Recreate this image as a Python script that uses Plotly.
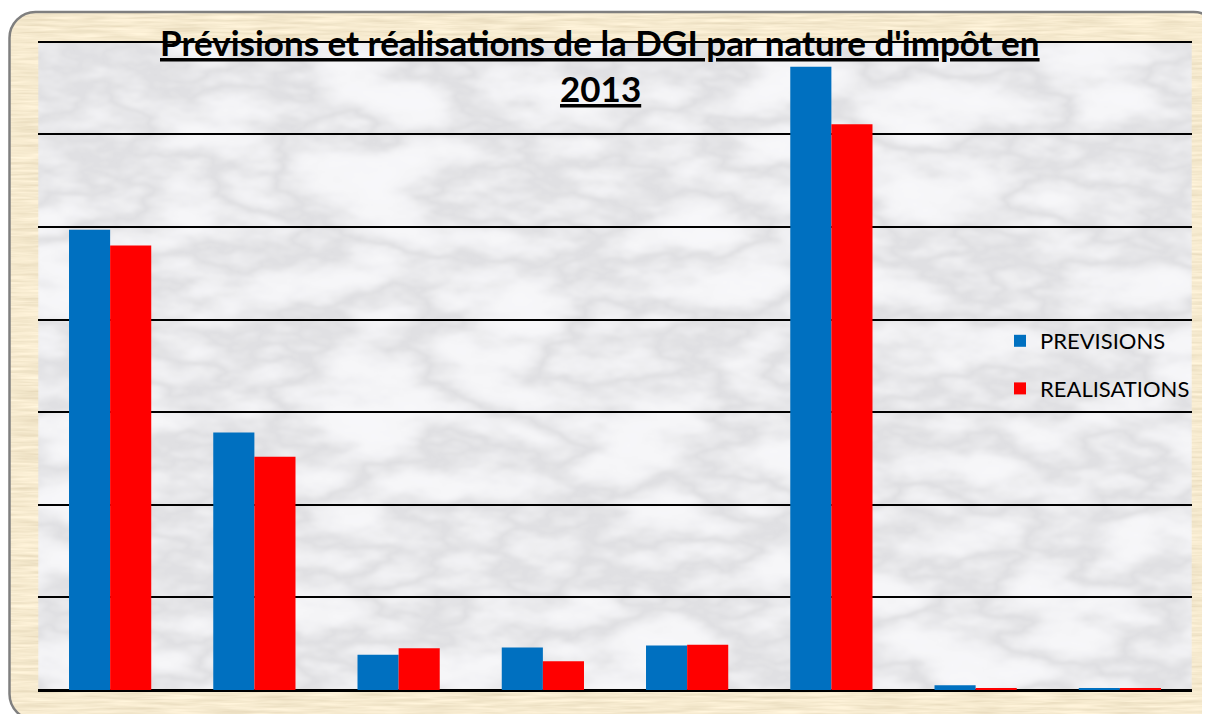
import urllib.parse
import plotly.graph_objects as go

# data (units = one gridline step)
categories = ["1", "2", "3", "4", "5", "6", "7", "8"]
previsions = [4.97, 2.78, 0.38, 0.46, 0.48, 6.73, 0.05, 0.02]
realisations = [4.80, 2.52, 0.45, 0.31, 0.49, 6.11, 0.02, 0.015]
title_line1 = "Prévisions et réalisations de la DGI par nature d'impôt en"
title_line2 = "2013"

# page has an 8px body margin, so the figure is a bit smaller than the window
W, H = 1202, 706
ML, MR, MT, MB = 30, 18, 32, 24
PW, PH = W - ML - MR, H - MT - MB
YTOP = 7.02  # a touch above 7 so the top gridline is still drawn

vein = "0.935 0.935 0.935 0.935 0.93 0.92 0.90 0.86 0.80 0.74 0.80 0.86 0.90 0.92 0.93 0.935 0.935 0.935 0.935"
vein_b = " ".join(str(round(float(v) + 0.02, 3)) for v in vein.split())

# background decoration: parchment frame + marble plot area (svg filters)
bg_svg = f"""<svg xmlns='http://www.w3.org/2000/svg' width='{W}' height='{H}' viewBox='0 0 {W} {H}'>
<defs>
<filter id='p' x='0' y='0' width='100%' height='100%'>
<feTurbulence type='fractalNoise' baseFrequency='0.02 0.35' numOctaves='3' seed='4' result='n'/>
<feColorMatrix in='n' type='matrix' values='0.3 0 0 0 0.77  0.3 0 0 0 0.67  0.3 0 0 0 0.47  0 0 0 0 1' result='c'/>
<feComposite in='c' in2='SourceAlpha' operator='in'/>
</filter>
<filter id='m' x='0' y='0' width='100%' height='100%'>
<feTurbulence type='fractalNoise' baseFrequency='0.007 0.016' numOctaves='5' seed='21' result='n'/>
<feColorMatrix in='n' type='matrix' values='1 0 0 0 0  1 0 0 0 0  1 0 0 0 0  0 0 0 0 1' result='g'/>
<feComponentTransfer in='g'>
<feFuncR type='table' tableValues='{vein}'/>
<feFuncG type='table' tableValues='{vein}'/>
<feFuncB type='table' tableValues='{vein_b}'/>
</feComponentTransfer>
<feGaussianBlur stdDeviation='1'/>
</filter>
</defs>
<rect x='1.5' y='4' width='1210' height='708' rx='26' ry='26' fill='#e8d19c' filter='url(#p)'/>
<rect x='1.5' y='4' width='1210' height='708' rx='26' ry='26' fill='none' stroke='#7f7f7f' stroke-width='2.5'/>
<rect x='{ML}' y='{MT + 2}' width='{PW}' height='{PH - 2}' fill='#e6e6e9' filter='url(#m)'/>
</svg>"""
bg_uri = "data:image/svg+xml;charset=utf-8," + urllib.parse.quote(bg_svg)

fig = go.Figure()
fig.add_trace(go.Bar(x=categories, y=previsions, name="PREVISIONS",
                     marker=dict(color="#0070C0", line=dict(width=0)), legendgroup="a"))
fig.add_trace(go.Bar(x=categories, y=realisations, name="REALISATIONS",
                     marker=dict(color="#FF0000", line=dict(width=0)), legendgroup="b"))

fig.add_layout_image(dict(source=bg_uri, xref="paper", yref="paper",
                          x=-ML / PW, y=1 + MT / PH, sizex=W / PW, sizey=H / PH,
                          xanchor="left", yanchor="top", sizing="stretch", layer="below"))

title_font = dict(family="Lato", size=35, color="black")
title_x = (592 - ML) / PW
fig.add_annotation(text=f"<b><u>{title_line1}</u></b>", xref="paper", yref="paper",
                   x=title_x, y=(H - MB - 34) / PH, xanchor="center", yanchor="middle",
                   showarrow=False, font=title_font)
fig.add_annotation(text=f"<b><u>{title_line2}</u></b>", xref="paper", yref="paper",
                   x=title_x, y=(H - MB - 80) / PH, xanchor="center", yanchor="middle",
                   showarrow=False, font=title_font)

fig.update_layout(
    width=W, height=H,
    margin=dict(l=ML, r=MR, t=MT, b=MB),
    paper_bgcolor="white",
    plot_bgcolor="rgba(0,0,0,0)",
    barmode="group", bargap=0.43, bargroupgap=0,
    showlegend=True,
    legend=dict(x=(992 - ML) / PW, y=(H - MB - 312) / PH, xanchor="left", yanchor="top",
                bgcolor="rgba(0,0,0,0)", font=dict(family="Lato", size=22, color="black"),
                traceorder="grouped", tracegroupgap=16),
    xaxis=dict(showticklabels=False, showgrid=False, ticks="", showline=False),
    yaxis=dict(range=[0, YTOP], dtick=1, showticklabels=False, ticks="",
               showgrid=True, gridcolor="black", gridwidth=1.5,
               zeroline=True, zerolinecolor="black", zerolinewidth=2.5),
)

fig.write_html("out.html")
